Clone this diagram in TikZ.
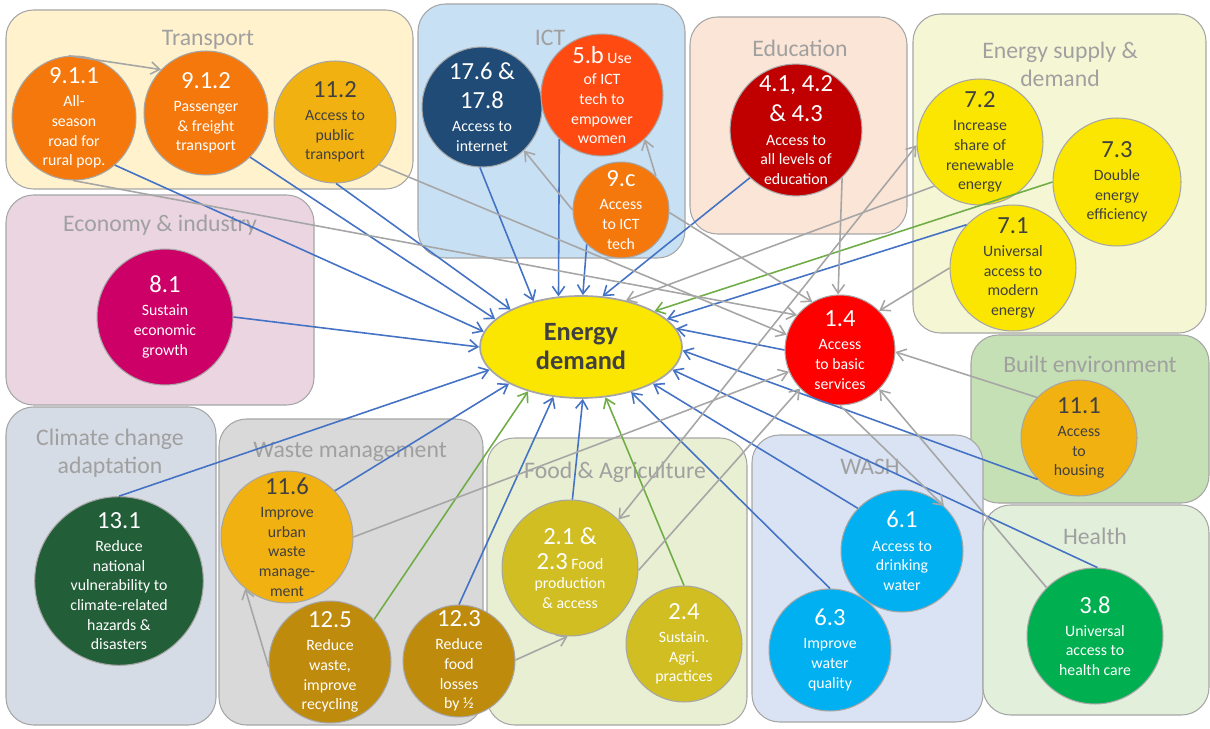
\documentclass[tikz,border=0pt]{standalone}
\usepackage{fontspec}
\setmainfont{Carlito}
\usepackage{tikz}
\usetikzlibrary{shapes.geometric,arrows.meta}
\definecolor{linegray}{RGB}{166,166,166}
\definecolor{lineblue}{RGB}{68,114,196}
\definecolor{linegreen}{RGB}{112,173,71}
\definecolor{titlegray}{RGB}{160,160,160}
\definecolor{textdark}{RGB}{64,64,64}
% group fills
\definecolor{transportfill}{RGB}{255,242,204}
\definecolor{ictfill}{RGB}{200,224,244}
\definecolor{edufill}{RGB}{251,229,214}
\definecolor{energyfill}{RGB}{245,247,212}
\definecolor{econfill}{RGB}{234,213,225}
\definecolor{builtfill}{RGB}{197,224,180}
\definecolor{climatefill}{RGB}{214,220,229}
\definecolor{wastefill}{RGB}{217,217,217}
\definecolor{foodfill}{RGB}{233,239,210}
\definecolor{washfill}{RGB}{218,227,243}
\definecolor{healthfill}{RGB}{226,239,218}
% target colours
\definecolor{sdgorange}{RGB}{245,120,12}
\definecolor{sdggold}{RGB}{241,177,17}
\definecolor{sdgnavy}{RGB}{31,75,118}
\definecolor{sdgredorange}{RGB}{255,74,18}
\definecolor{sdgdarkred}{RGB}{192,0,0}
\definecolor{sdgyellow}{RGB}{250,230,0}
\definecolor{sdgmagenta}{RGB}{204,0,102}
\definecolor{sdgred}{RGB}{255,0,0}
\definecolor{sdggreen}{RGB}{0,176,80}
\definecolor{sdgforest}{RGB}{34,94,56}
\definecolor{sdgbrown}{RGB}{191,139,12}
\definecolor{sdgolive}{RGB}{208,190,34}
\definecolor{sdgcyan}{RGB}{0,176,240}
\newcommand{\sdgnum}[1]{{\fontsize{14}{16}\selectfont #1}}

\begin{document}
\begin{tikzpicture}[x=0.02cm, y=-0.02cm,
    grp/.style={draw=linegray, line width=0.6pt, rounded corners=0.55cm},
    grptitle/.style={text=titlegray, font=\fontsize{13.5}{16}\selectfont, align=center},
    sdg/.style={circle, draw=linegray, line width=0.6pt, inner sep=0pt, align=center, text=white, font=\fontsize{9}{11.2}\selectfont},
    rad/.style={minimum size=#1*0.04cm},
    dark/.style={text=textdark},
    demand/.style={ellipse, draw=linegray, line width=1pt, fill=sdgyellow, minimum width=4.04cm, minimum height=2.04cm, inner sep=0pt, align=center, text=textdark, font=\fontsize{15}{16.5}\selectfont\bfseries},
    bl/.style={draw=lineblue, line width=0.9pt, -{Straight Barb[length=5pt,width=7pt]}},
    gn/.style={draw=linegreen, line width=0.9pt, -{Straight Barb[length=5pt,width=7pt]}},
    gy/.style={draw=linegray, line width=0.9pt, -{Straight Barb[length=5pt,width=7pt]}},
    gyboth/.style={draw=linegray, line width=0.9pt, {Straight Barb[length=5pt,width=7pt]}-{Straight Barb[length=5pt,width=7pt]}}
]
\useasboundingbox (0,0) rectangle (1210,729);

% Group boxes
\draw[grp, fill=transportfill] (6,10) rectangle (413,189);
\draw[grp, fill=ictfill] (418,4) rectangle (685,258);
\draw[grp, fill=edufill] (690,17) rectangle (907,234);
\draw[grp, fill=energyfill] (913,14) rectangle (1206,333);
\draw[grp, fill=econfill] (6,195) rectangle (314,405);
\draw[grp, fill=builtfill] (971,335) rectangle (1209,503);
\draw[grp, fill=climatefill] (6,407) rectangle (216,725);
\draw[grp, fill=wastefill] (219,419) rectangle (483,725);
\draw[grp, fill=foodfill] (487,438) rectangle (747,725);
\draw[grp, fill=washfill] (752,435) rectangle (983,722);
\draw[grp, fill=healthfill] (983,505) rectangle (1209,715);

% Group titles
\node[grptitle] (gtransport) at (208,40) {Transport};
\node[grptitle] (gict) at (550,38) {ICT};
\node[grptitle] (gedu) at (800,48) {Education};
\node[grptitle] (genergy) at (1060,64) {Energy supply \&\\demand};
\node[grptitle] (gecon) at (160,225) {Economy \& industry};
\node[grptitle] (gbuilt) at (1090,364) {Built environment};
\node[grptitle] (gclimate) at (110,453) {Climate change\\adaptation};
\node[grptitle] (gwaste) at (350,452) {Waste management};
\node[grptitle] (gfood) at (615,472) {Food \& Agriculture};
\node[grptitle] (gwash) at (870,467) {WASH};
\node[grptitle] (ghealth) at (1095,536) {Health};

% Targets
\node[sdg, rad=62, fill=sdgorange] (s911) at (74,118) {\sdgnum{9.1.1}\\[2pt]All-\\season\\road for\\rural pop.};
\node[sdg, rad=62, fill=sdgorange] (s912) at (206,113) {\sdgnum{9.1.2}\\[2pt]Passenger\\\& freight\\transport};
\node[sdg, dark, rad=61, fill=sdggold] (s112) at (335,122) {\sdgnum{11.2}\\[2pt]Access to\\public\\transport};
\node[sdg, rad=60, fill=sdgnavy] (s176) at (482,107) {\sdgnum{17.6 \&}\\[5pt]\sdgnum{17.8}\\[2pt]Access to\\internet};
\node[sdg, rad=61, fill=sdgredorange] (s5b) at (602,95) {\sdgnum{5.b} Use\\[1pt]of ICT\\tech to\\empower\\women};
\node[sdg, rad=48, fill=sdgorange] (s9c) at (621,210) {\sdgnum{9.c}\\[2pt]Access\\to ICT\\tech};
\node[sdg, rad=65, fill=sdgdarkred] (s41) at (796,130) {\sdgnum{4.1, 4.2}\\[5pt]\sdgnum{\& 4.3}\\[2pt]Access to\\all levels of\\education};
\node[sdg, dark, rad=63, fill=sdgyellow] (s72) at (980,142) {\sdgnum{7.2}\\[2pt]Increase\\share of\\renewable\\energy};
\node[sdg, dark, rad=64, fill=sdgyellow] (s73) at (1117,182) {\sdgnum{7.3}\\[2pt]Double\\energy\\efficiency};
\node[sdg, dark, rad=63, fill=sdgyellow] (s71) at (1013,268) {\sdgnum{7.1}\\[2pt]Universal\\access to\\modern\\energy};
\node[sdg, rad=68, fill=sdgmagenta] (s81) at (165,317) {\sdgnum{8.1}\\[2pt]Sustain\\economic\\growth};
\node[demand] (ed) at (581,347) {Energy\\demand};
\node[sdg, rad=55, fill=sdgred] (s14) at (840,350) {\sdgnum{1.4}\\[2pt]Access\\to basic\\services};
\node[sdg, dark, rad=58, fill=sdggold] (s111) at (1079,438) {\sdgnum{11.1}\\[2pt]Access\\to\\housing};
\node[sdg, rad=68, fill=sdggreen] (s38) at (1095,636) {\sdgnum{3.8}\\[2pt]Universal\\access to\\health care};
\node[sdg, rad=82, fill=sdgforest] (s131) at (119,581) {\sdgnum{13.1}\\[2pt]Reduce\\national\\vulnerability to\\climate-related\\hazards \&\\disasters};
\node[sdg, dark, rad=66, fill=sdggold] (s116) at (287,537) {\sdgnum{11.6}\\[2pt]Improve\\urban\\waste\\manage-\\ment};
\node[sdg, rad=61, fill=sdgbrown] (s125) at (330,662) {\sdgnum{12.5}\\[2pt]Reduce\\waste,\\improve\\recycling};
\node[sdg, rad=56, fill=sdgbrown] (s123) at (459,661) {\sdgnum{12.3}\\[2pt]Reduce\\food\\losses\\by ½};
\node[sdg, rad=68, fill=sdgolive] (s21) at (570,568) {\sdgnum{2.1 \&}\\[3pt]\sdgnum{2.3} Food\\production\\\& access};
\node[sdg, rad=58, fill=sdgolive] (s24) at (684,644) {\sdgnum{2.4}\\[2pt]Sustain.\\Agri.\\practices};
\node[sdg, rad=61, fill=sdgcyan] (s61) at (902,551) {\sdgnum{6.1}\\[2pt]Access to\\drinking\\water};
\node[sdg, rad=61, fill=sdgcyan] (s63) at (830,650) {\sdgnum{6.3}\\[2pt]Improve\\water\\quality};

% Links to energy demand
\draw[bl] (s911.-49) -- (ed.171);
\draw[bl] (s912.-45) -- (ed.162);
\draw[bl] (s112.-89) -- (ed.152);
\draw[bl] (s176.-92) -- (ed.136);
\draw[bl] (s5b.226) -- (ed.114);
\draw[bl] (s9c.-135) -- (ed.88);
\draw[bl] (s41.-134) -- (ed.67);
\draw[gy] (s72.224) -- (ed.46);
\draw[gn] (s73.180) -- (ed.26);
\draw[bl] (s71.137) -- (ed.18);
\draw[bl] (s14.180) -- (ed.11);
\draw[bl] (s111.225) -- (ed.-2);
\draw[bl] (s38.88) -- (ed.-14);
\draw[bl] (s61.136) -- (ed.-27);
\draw[bl] (s63.90) -- (ed.-42);
\draw[gn] (s24.90) -- (ed.-64);
\draw[bl] (s21.88) -- (ed.-88);
\draw[bl] (s123.90) -- (ed.-119);
\draw[gn] (s125.44) -- (ed.-140);
\draw[bl] (s116.44) -- (ed.-153);
\draw[bl] (s131.90) -- (ed.-166);
\draw[bl] (s81.0) -- (ed.180);

% Links between targets
\draw[gy] (s911.95) -- (s912.136);
\draw[gy] (s911.-91) -- (s14.141);
\draw[gy] (s112.-44) -- (s14.164);
\draw[gy] (s9c.-3) -- (s14.120);
\draw[gy] (s9c.180) -- (s176.-46);
\draw[gy] (s9c.44) -- (s5b.-46);
\draw[gyboth] (s21.45) -- (s72.183);
\draw[gy] (s21.-2) -- (s14.-136);
\draw[gy] (s116.0) -- (s14.-157);
\draw[gy] (s111.136) -- (s14.-2);
\draw[gy] (s71.180) -- (s14.45);
\draw[gy] (s41.-46) -- (s14.92);
\draw[gy] (s38.135) -- (s14.-45);
\draw[gy] (s14.-90) -- (s61.47);
\draw[gy] (s125.185) -- (s116.-129);
\draw[gy] (s123.1) -- (s21.-92);

\end{tikzpicture}
\end{document}
